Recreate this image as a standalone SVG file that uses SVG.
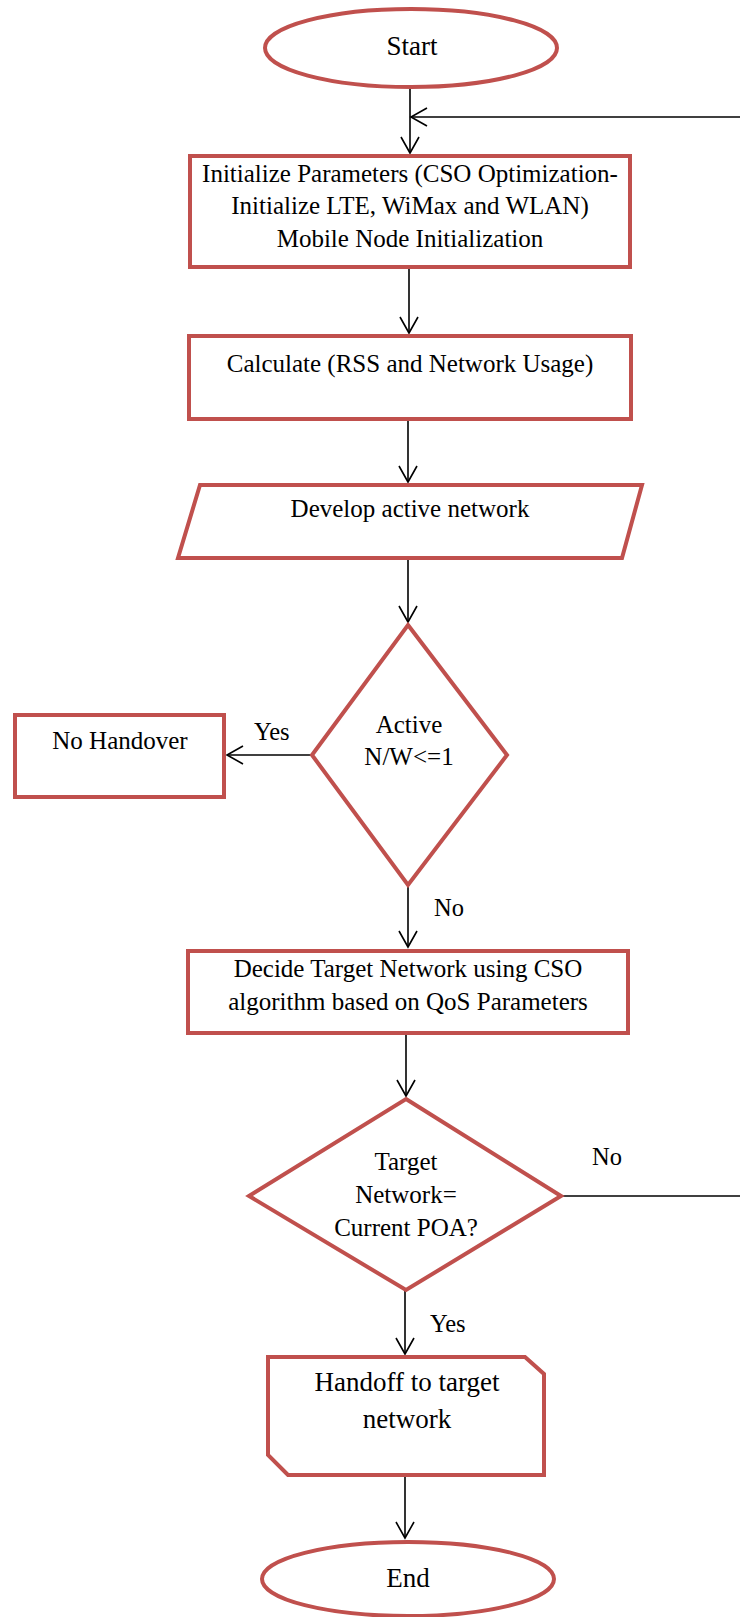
<svg xmlns="http://www.w3.org/2000/svg" width="740" height="1617" viewBox="0 0 740 1617">
<style>
.n{fill:#fff;stroke:#C0504D;stroke-width:4}
.c{fill:none;stroke:#000;stroke-width:1.6}
.t{font-family:"Liberation Serif","Times New Roman",serif;font-size:25px;fill:#000;text-anchor:middle}
.b{font-size:27px}
.l{font-family:"Liberation Serif","Times New Roman",serif;font-size:24.5px;fill:#000}
</style>
<defs>
<marker id="ah" markerUnits="userSpaceOnUse" markerWidth="22" markerHeight="24" viewBox="-18 -12 20 24" refX="0" refY="0" orient="auto">
<path d="M-16,-9 L0,0 L-16,9" fill="none" stroke="#000" stroke-width="1.6"/>
</marker>
</defs>
<g id="connectors">
<line class="c" x1="410" y1="88" x2="410" y2="153" marker-end="url(#ah)"/>
<line class="c" x1="740" y1="117" x2="411" y2="117" marker-end="url(#ah)"/>
<line class="c" x1="409" y1="268" x2="409" y2="333" marker-end="url(#ah)"/>
<line class="c" x1="408" y1="419" x2="408" y2="482" marker-end="url(#ah)"/>
<line class="c" x1="408" y1="558" x2="408" y2="622" marker-end="url(#ah)"/>
<line class="c" x1="312" y1="755" x2="227" y2="755" marker-end="url(#ah)"/>
<line class="c" x1="408" y1="885" x2="408" y2="947" marker-end="url(#ah)"/>
<line class="c" x1="406" y1="1033" x2="406" y2="1096" marker-end="url(#ah)"/>
<line class="c" x1="561" y1="1196" x2="740" y2="1196"/>
<line class="c" x1="405" y1="1290" x2="405" y2="1354" marker-end="url(#ah)"/>
<line class="c" x1="405" y1="1475" x2="405" y2="1538" marker-end="url(#ah)"/>
<text class="l" x="254" y="740">Yes</text>
<text class="l" x="434" y="916">No</text>
<text class="l" x="592" y="1165">No</text>
<text class="l" x="430" y="1332">Yes</text>
</g>
<g id="start">
<ellipse class="n" cx="411" cy="48" rx="146" ry="39"/>
<text class="t b" x="412" y="55">Start</text>
</g>
<g id="init">
<rect class="n" x="190" y="156" width="440" height="111"/>
<text class="t" x="410" y="182">Initialize Parameters (CSO Optimization-</text>
<text class="t" x="410" y="214">Initialize LTE, WiMax and WLAN)</text>
<text class="t" x="410" y="247">Mobile Node Initialization</text>
</g>
<g id="calc">
<rect class="n" x="189" y="336" width="442" height="83"/>
<text class="t" x="410" y="372">Calculate (RSS and Network Usage)</text>
</g>
<g id="develop">
<polygon class="n" points="200,485 642,485 622,558 178,558"/>
<text class="t" x="410" y="517">Develop active network</text>
</g>
<g id="decision1">
<polygon class="n" points="408,625 507,755 408,885 312,755"/>
<text class="t" x="409" y="733">Active</text>
<text class="t" x="409" y="765">N/W&lt;=1</text>
</g>
<g id="nohandover">
<rect class="n" x="15" y="715" width="209" height="82"/>
<text class="t" x="120" y="749">No Handover</text>
</g>
<g id="decide">
<rect class="n" x="188" y="951" width="440" height="82"/>
<text class="t" x="408" y="977">Decide Target Network using CSO</text>
<text class="t" x="408" y="1010">algorithm based on QoS Parameters</text>
</g>
<g id="decision2">
<polygon class="n" points="406,1099 561,1196 406,1290 249,1196"/>
<text class="t" x="406" y="1170">Target</text>
<text class="t" x="406" y="1203">Network=</text>
<text class="t" x="406" y="1236">Current POA?</text>
</g>
<g id="handoff">
<polygon class="n" points="268,1357 525,1357 544,1374 544,1475 288,1475 268,1455"/>
<text class="t b" x="407" y="1391">Handoff to target</text>
<text class="t b" x="407" y="1428">network</text>
</g>
<g id="end">
<ellipse class="n" cx="408" cy="1579" rx="146" ry="37"/>
<text class="t b" x="408" y="1587">End</text>
</g>
</svg>
